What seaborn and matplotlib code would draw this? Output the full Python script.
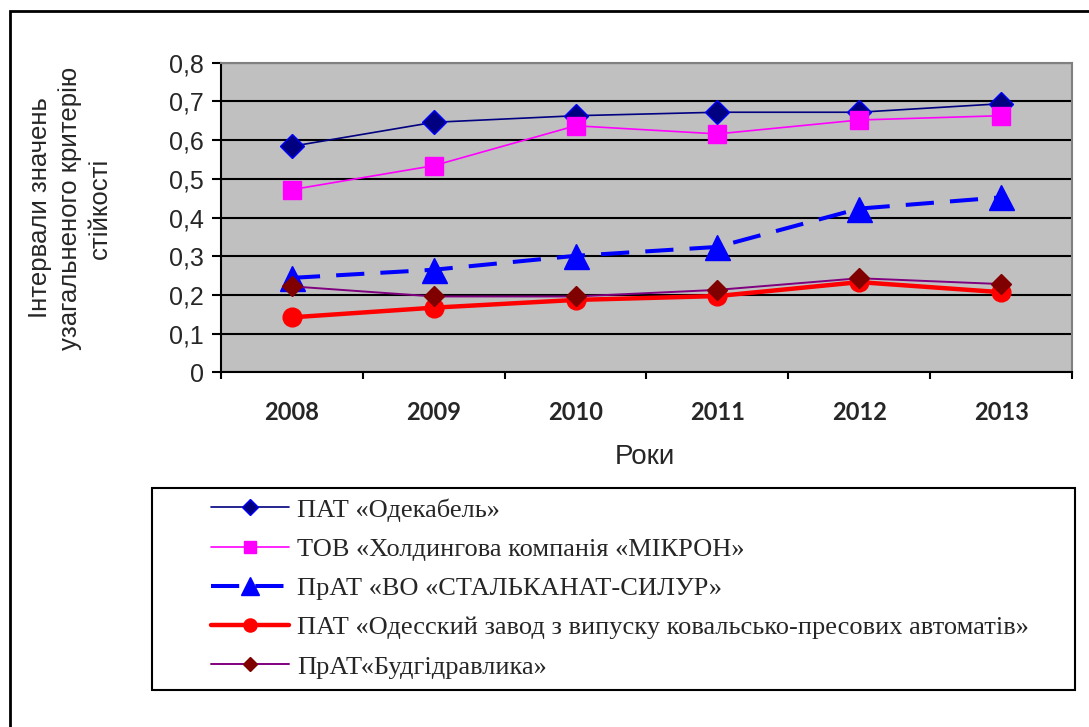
import numpy as np
import pandas as pd
import matplotlib
matplotlib.use("Agg")
import matplotlib.pyplot as plt
from matplotlib.patches import Rectangle
from matplotlib.ticker import FuncFormatter, FixedLocator
import seaborn as sns

# Data
years = ["2008", "2009", "2010", "2011", "2012", "2013"]
odekabel = [0.584, 0.646, 0.663, 0.672, 0.672, 0.694]
mikron = [0.472, 0.534, 0.637, 0.616, 0.652, 0.663]
stalkanat = [0.244, 0.265, 0.301, 0.324, 0.423, 0.452]
odeskiy_zavod = [0.142, 0.167, 0.187, 0.197, 0.233, 0.207]
budgidravlika = [0.222, 0.196, 0.196, 0.213, 0.243, 0.228]

labels = [
    "ПАТ «Одекабель»",
    "ТОВ «Холдингова компанія «МІКРОН»",
    "ПрАТ «ВО «СТАЛЬКАНАТ-СИЛУР»",
    "ПАТ «Одесский завод з випуску ковальсько-пресових автоматів»",
    "ПрАТ«Будгідравлика»",
]

# Styles per series
styles = [
    dict(color="#000080", lw=1.2, ls="-", marker="D", ms=12, mfc="#000080", mec="#0000FF"),
    dict(color="#FF00FF", lw=1.2, ls="-", marker="s", ms=13, mfc="#FF00FF", mec="#FF00FF"),
    dict(color="#0000FF", lw=2.9, ls=(0, (7, 4)), marker="^", ms=18, mfc="#0000FF", mec="#0000FF"),
    dict(color="#FF0000", lw=3.2, ls="-", marker="o", ms=13.5, mfc="#FF0000", mec="#FF0000"),
    dict(color="#800080", lw=1.4, ls="-", marker="D", ms=10, mfc="#800000", mec="#800000"),
]

df = pd.DataFrame({"pos": np.arange(len(years))})
series = [odekabel, mikron, stalkanat, odeskiy_zavod, budgidravlika]

sns.set_style("ticks")
plt.rcParams["font.family"] = ["Liberation Sans", "DejaVu Sans"]

fig = plt.figure(figsize=(10.89, 7.27), dpi=100)
ax = fig.add_axes([221 / 1089, 1 - 372.3 / 727, 851 / 1089, 309.6 / 727])
ax.set_facecolor("#C0C0C0")

for vals, lab, st in zip(series, labels, styles):
    sns.lineplot(x=df["pos"], y=vals, ax=ax, label=lab, color=st["color"],
                 linewidth=st["lw"], linestyle=st["ls"], marker=st["marker"],
                 markersize=st["ms"], markerfacecolor=st["mfc"],
                 markeredgecolor=st["mec"], markeredgewidth=1.0)

handles, labs = ax.get_legend_handles_labels()
ax.get_legend().remove()

ax.set_xlim(-0.5, len(years) - 0.5)
ax.set_ylim(0, 0.8)
ax.set_yticks(np.arange(0, 0.81, 0.1))
ax.yaxis.set_major_formatter(FuncFormatter(lambda v, p: "0" if abs(v) < 1e-9 else f"{v:.1f}".replace(".", ",")))
ax.set_xticks(np.arange(len(years)))
ax.set_xticklabels(years, fontfamily="Lato", fontweight="bold", fontsize=17)
ax.xaxis.set_minor_locator(FixedLocator(np.arange(-0.5, len(years), 1.0)))
ax.tick_params(axis="x", which="major", length=0, pad=21)
ax.tick_params(axis="x", which="minor", length=5, width=1.5, direction="out", color="black")
ax.tick_params(axis="y", length=6.5, width=1.5, pad=6, labelsize=18, color="black")
ax.set_xlabel("")
ax.set_ylabel("")

ax.grid(axis="y", color="black", linewidth=1.5)
ax.set_axisbelow(True)
for side in ["left", "bottom"]:
    ax.spines[side].set_color("black")
    ax.spines[side].set_linewidth(1.5)
for side in ["top", "right"]:
    ax.spines[side].set_visible(True)
    ax.spines[side].set_color("#808080")
    ax.spines[side].set_linewidth(1.5)

fig.text(645 / 1089, 1 - 457 / 727, "Роки", ha="center", va="center", fontsize=20)
fig.text(70 / 1089, 1 - 208 / 727,
         "Інтервали значень\nузагальненого критерію\nстійкості",
         rotation=90, ha="center", va="center", multialignment="center",
         fontsize=18.5, linespacing=1.3)

# legend with separate frame
fig.patches.append(Rectangle((152 / 1089, 1 - 690 / 727), 923 / 1089, 202 / 727,
                             transform=fig.transFigure, fill=False,
                             edgecolor="black", linewidth=1.5))
fig.legend(handles, labs, loc="upper left", bbox_to_anchor=(211 / 1089, 1 - 498 / 727),
           frameon=False, prop={"family": "Liberation Serif", "size": 19},
           handlelength=2.95, handletextpad=0.3, labelspacing=0.6,
           markerscale=0.7, borderpad=0, borderaxespad=0)

# outer frame (top and left visible)
fig.patches.append(Rectangle((10 / 1089, -0.1), 1.2, 1.1 - 11 / 727,
                             transform=fig.transFigure, fill=False,
                             edgecolor="black", linewidth=2))

fig.savefig("out.png", dpi=100)
